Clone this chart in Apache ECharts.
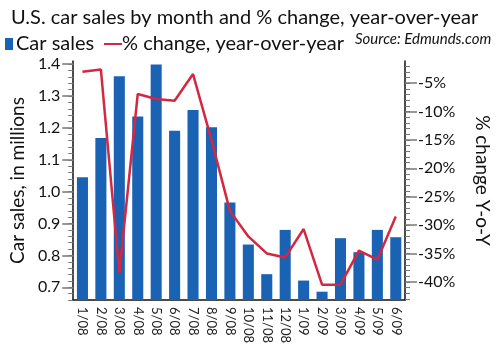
<!DOCTYPE html>
<html>
<head>
<meta charset="utf-8">
<script src="https://cdn.jsdelivr.net/npm/echarts@6/dist/echarts.min.js"></script>
<style>
  html, body { margin: 0; padding: 0; background: #fff; }
  #chart { width: 500px; height: 352px; }
</style>
</head>
<body>
<div id="chart"></div>
<script>
// months on the x axis
const months = ["1/08", "2/08", "3/08", "4/08", "5/08", "6/08", "7/08", "8/08", "9/08",
  "10/08", "11/08", "12/08", "1/09", "2/09", "3/09", "4/09", "5/09", "6/09"]
// car sales, millions
const carSales = [1.045, 1.168, 1.362, 1.236, 1.399, 1.191, 1.256, 1.202, 0.966,
  0.834, 0.741, 0.880, 0.721, 0.686, 0.854, 0.810, 0.880, 0.857]
// % change year-over-year
const pctChange = [-3.0, -2.6, -38.4, -6.9, -7.8, -8.1, -3.4, -15.0, -27.5,
  -32.0, -35.0, -35.7, -30.7, -40.5, -40.5, -34.5, -36.1, -28.5]
// tick labels
const leftTicks = [0.7, 0.8, 0.9, 1.0, 1.1, 1.2, 1.3, 1.4]
const rightTicks = [-40, -35, -30, -25, -20, -15, -10, -5]

const leftMin = 0.66, leftMax = 1.41
const rightMin = -43.2, rightMax = -1.1

// minor tick positions
const leftMinor = []
for (let i = 33; i <= 70; i++) leftMinor.push(+(i * 0.02).toFixed(2))
const rightMinor = []
for (let i = -43; i <= -2; i++) rightMinor.push(i)

const FONT = "Lato"
const blue = "#1a62b3"
const red = "#d32742"

const myChart = echarts.init(document.getElementById("chart"))

const hiddenAxis = (pos, min, max, ticks) => ({
  type: "value",
  position: pos,
  min: min,
  max: max,
  axisLine: { show: false },
  axisLabel: { show: false },
  splitLine: { show: false },
  axisTick: { show: true, length: 5, customValues: ticks, lineStyle: { color: "#777", width: 1 } }
})

myChart.setOption({
  animation: false,
  textStyle: { fontFamily: FONT },
  title: {
    text: "U.S. car sales by month and % change, year-over-year",
    left: 6,
    top: 3,
    textStyle: { fontFamily: FONT, fontSize: 20, fontWeight: "normal", color: "#111" }
  },
  legend: [
    {
      data: [{ name: "Car sales", icon: "rect" }],
      left: 0,
      top: 29,
      itemWidth: 8,
      itemHeight: 12,
      textStyle: { fontFamily: FONT, fontSize: 20, color: "#111", padding: [0, 0, 0, -2] }
    },
    {
      data: [{ name: "% change, year-over-year", icon: "rect" }],
      left: 99,
      top: 29,
      itemWidth: 18,
      itemHeight: 2,
      textStyle: { fontFamily: FONT, fontSize: 20, color: "#111", padding: [0, 0, 0, -5] }
    }
  ],
  graphic: [{
    type: "text",
    left: 355,
    top: 32,
    style: { text: "Source: Edmunds.com", font: "italic 15px " + FONT, fill: "#111" }
  }],
  grid: { left: 59, right: 80, top: 61, bottom: 52 },
  xAxis: {
    type: "category",
    data: months,
    axisLine: { lineStyle: { color: "#111", width: 1.5 } },
    axisTick: { alignWithLabel: true, length: 5, lineStyle: { color: "#555" } },
    axisLabel: { rotate: -90, fontSize: 13, color: "#222", margin: 7, interval: 0 }
  },
  yAxis: [
    {
      type: "value",
      position: "left",
      min: leftMin,
      max: leftMax,
      name: "Car sales, in millions",
      nameLocation: "middle",
      nameGap: 44,
      nameTextStyle: { fontSize: 19, color: "#111" },
      axisLine: { show: true, lineStyle: { color: "#111", width: 1.5 } },
      axisTick: { show: true, length: 11, customValues: leftTicks, lineStyle: { color: "#777", width: 1.5 } },
      axisLabel: { customValues: leftTicks, fontSize: 16, color: "#111", margin: 13,
        formatter: (v) => v.toFixed(1) },
      splitLine: { show: false }
    },
    {
      type: "value",
      position: "right",
      min: rightMin,
      max: rightMax,
      name: "% change Y-o-Y",
      nameLocation: "middle",
      nameRotate: -90,
      nameGap: 68,
      nameTextStyle: { fontSize: 19, color: "#111" },
      axisLine: { show: true, lineStyle: { color: "#111", width: 1.5 } },
      axisTick: { show: true, length: 12, customValues: rightTicks, lineStyle: { color: "#777", width: 1.5 } },
      axisLabel: { customValues: rightTicks, fontSize: 16, color: "#111", margin: 13,
        formatter: (v) => "-" + Math.abs(v) + "%" },
      splitLine: { show: false }
    },
    hiddenAxis("left", leftMin, leftMax, leftMinor),
    hiddenAxis("right", rightMin, rightMax, rightMinor)
  ],
  series: [
    {
      name: "Car sales",
      type: "bar",
      yAxisIndex: 0,
      data: carSales,
      barWidth: "60%",
      itemStyle: { color: blue }
    },
    {
      name: "% change, year-over-year",
      type: "line",
      yAxisIndex: 1,
      data: pctChange,
      symbol: "none",
      lineStyle: { color: red, width: 2.5 },
      itemStyle: { color: red }
    }
  ]
})
</script>
</body>
</html>
